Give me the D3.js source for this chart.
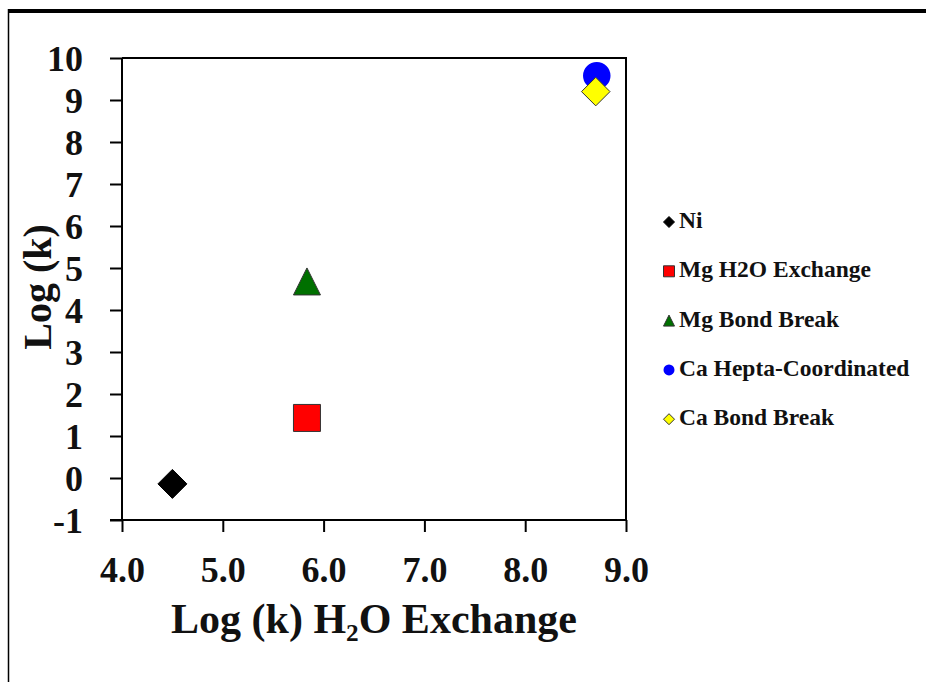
<!DOCTYPE html>
<html><head><meta charset="utf-8">
<script src="https://cdn.jsdelivr.net/npm/d3@7/dist/d3.min.js"></script>
<style>
html,body{margin:0;padding:0;background:#fff;}
svg{display:block;}
text{font-family:"Liberation Serif","Times New Roman",serif;font-weight:bold;fill:#111;}
</style></head>
<body>
<svg id="c" width="926" height="682"></svg>
<script>
// ---- data ----
const seriesNames = ["Ni", "Mg H2O Exchange", "Mg Bond Break", "Ca Hepta-Coordinated", "Ca Bond Break"];
const xValues = [4.50, 5.835, 5.835, 8.71, 8.70];
const yValues = [-0.14, 1.43, 4.68, 9.58, 9.20];
const xTicks = [4, 5, 6, 7, 8, 9];
const yTicks = [-1, 0, 1, 2, 3, 4, 5, 6, 7, 8, 9, 10];
const xTitle = "Log (k) H\u2082O Exchange";
const yTitle = "Log (k)";

// ---- styles ----
const shapes = ["diamond", "square", "triangle", "circle", "diamond"];
const fills = ["#000000", "#ff0000", "#007000", "#0000ff", "#ffff00"];
const strokes = ["#000000", "#333333", "#333333", "none", "#333333"];

const svg = d3.select("#c");
const W = 926, H = 682;
const m = {left: 122, right: 626, top: 58, bottom: 520};

// frame
svg.append("line").attr("x1", 8).attr("x2", W).attr("y1", 11).attr("y2", 11)
  .attr("stroke", "#000").attr("stroke-width", 4);
svg.append("line").attr("x1", 8.5).attr("x2", 8.5).attr("y1", 9).attr("y2", H)
  .attr("stroke", "#000").attr("stroke-width", 1.5);

const x = d3.scaleLinear().domain([4, 9]).range([m.left, m.right]);
const y = d3.scaleLinear().domain([-1, 10]).range([m.bottom, m.top]);

// plot box (top & right)
svg.append("path")
  .attr("d", `M${m.left},${m.top}H${m.right}V${m.bottom}`)
  .attr("fill", "none").attr("stroke", "#000").attr("stroke-width", 2);

// axes
const xAxis = d3.axisBottom(x).tickValues(xTicks).tickFormat(d3.format(".1f")).tickSizeOuter(0).tickSize(12).tickPadding(24);
const yAxis = d3.axisLeft(y).tickValues(yTicks).tickFormat(d => String(d)).tickSizeOuter(0).tickSize(12).tickPadding(27);

const gx = svg.append("g").attr("transform", `translate(0,${m.bottom})`).call(xAxis);
const gy = svg.append("g").attr("transform", `translate(${m.left},0)`).call(yAxis);
[gx, gy].forEach(g => {
  g.select(".domain").attr("stroke", "#000").attr("stroke-width", 2);
  g.selectAll(".tick line").attr("stroke", "#000").attr("stroke-width", 2);
  g.selectAll(".tick text").style("font-family", '"Liberation Serif",serif').style("font-weight", "bold").attr("fill", "#111");
});
gx.selectAll(".tick text").style("font-size", "36px");
gy.selectAll(".tick text").style("font-size", "36px").attr("dy", "0.35em");
gy.select(".domain").attr("d", `M0,${m.bottom + 1}V${m.top}`);
gx.select(".domain").attr("d", `M${m.left - 12},0H${m.right}`);

// titles
svg.append("text").attr("x", 374).attr("y", 633).attr("text-anchor", "middle")
  .style("font-size", "42px").text(xTitle);
svg.append("text").attr("transform", "translate(51,287) rotate(-90)").attr("text-anchor", "middle")
  .style("font-size", "40px").text(yTitle);

// marker path by bbox size s
function markerPath(shape, s) {
  const h = s / 2;
  if (shape === "diamond") return `M0,${-h}L${h},0L0,${h}L${-h},0Z`;
  if (shape === "square") return `M${-h},${-h}H${h}V${h}H${-h}Z`;
  if (shape === "triangle") return `M0,${-h}L${h},${h}L${-h},${h}Z`;
  return d3.symbol(d3.symbolCircle, Math.PI * h * h)();
}
const plotSizes = [29, 27, 27, 27.5, 28.5];

const pts = seriesNames.map((n, i) => ({n, x: xValues[i], y: yValues[i], i}));
svg.append("g").selectAll("path").data(pts).join("path")
  .attr("transform", d => `translate(${x(d.x)},${y(d.y)})`)
  .attr("d", d => markerPath(shapes[d.i], plotSizes[d.i]))
  .attr("fill", d => fills[d.i])
  .attr("stroke", d => strokes[d.i])
  .attr("stroke-width", 1);

// legend
const lg = svg.append("g").attr("transform", "translate(669,222)");
const rows = lg.selectAll("g").data(pts).join("g")
  .attr("transform", (d, i) => `translate(0,${i * 49.3})`);
rows.append("path")
  .attr("d", d => markerPath(shapes[d.i], 11))
  .attr("fill", d => fills[d.i])
  .attr("stroke", d => strokes[d.i])
  .attr("stroke-width", 1);
rows.append("text").attr("x", 10).attr("y", 6)
  .style("font-size", "23.5px").text(d => d.n);
</script>
</body></html>
